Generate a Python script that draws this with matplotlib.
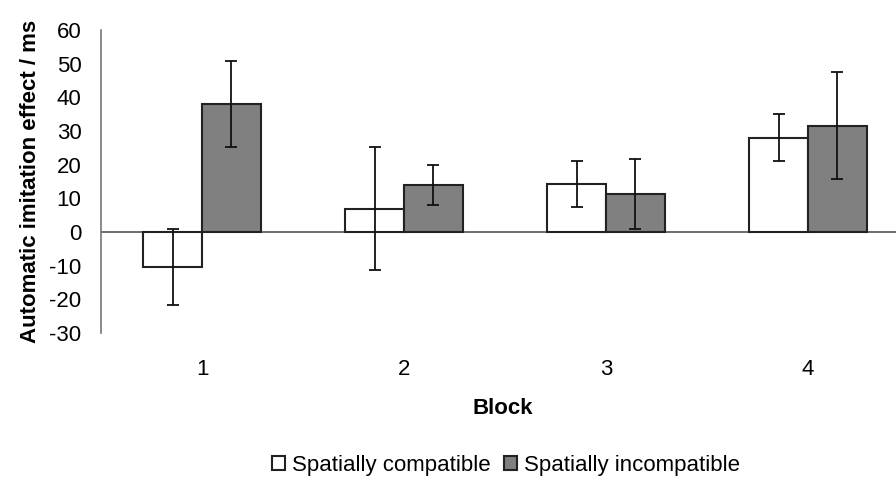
import numpy as np
import matplotlib
matplotlib.use("Agg")
import matplotlib.pyplot as plt

plt.rcParams['font.family'] = ['Liberation Sans', 'DejaVu Sans']
plt.rcParams['axes.unicode_minus'] = False

# Data
blocks = ['1', '2', '3', '4']
compatible = [-10.4, 6.9, 14.3, 28.0]
compatible_err = [11.2, 18.3, 6.9, 7.0]
incompatible = [38.0, 13.9, 11.3, 31.5]
incompatible_err = [12.9, 6.0, 10.3, 15.9]

fs = 16

fig = plt.figure(figsize=(8.96, 4.78), dpi=100)
ax = fig.add_axes([101/896, 145/478, 808/896, 303/478])

x = np.arange(len(blocks))
w = 0.29

ax.bar(x - w/2, compatible, w, color='white', edgecolor='#222222', linewidth=1.5,
       label='Spatially compatible', zorder=2)
ax.bar(x + w/2, incompatible, w, color='#808080', edgecolor='#222222', linewidth=1.5,
       label='Spatially incompatible', zorder=2)
ax.errorbar(x - w/2, compatible, yerr=compatible_err, fmt='none', ecolor='#111111',
            elinewidth=1.3, capsize=4, capthick=1.3, zorder=3)
ax.errorbar(x + w/2, incompatible, yerr=incompatible_err, fmt='none', ecolor='#111111',
            elinewidth=1.3, capsize=4, capthick=1.3, zorder=3)

ax.axhline(0, color='#555555', linewidth=1.2, zorder=1)

ax.set_xlim(-0.5, 3.5)
ax.set_ylim(-30, 60)
ax.set_yticks(range(-30, 61, 10))
ax.set_xticks(x)
ax.set_xticklabels(blocks)
ax.tick_params(axis='both', length=0, labelsize=fs)
ax.tick_params(axis='x', pad=19)
ax.tick_params(axis='y', pad=14)

for s in ['top', 'right', 'bottom']:
    ax.spines[s].set_visible(False)
ax.spines['left'].set_color('#777777')
ax.spines['left'].set_linewidth(1.2)

ax.set_ylabel('Automatic imitation effect / ms', fontsize=fs, fontweight='bold', labelpad=6)
fig.text(503/896, 1 - 408/478, 'Block', fontsize=fs, fontweight='bold', ha='center', va='center')

fig.legend(loc='center', bbox_to_anchor=(506/896, 1 - 465/478), ncol=2, frameon=False,
           fontsize=fs, handlelength=0.6, handleheight=0.6, handletextpad=0.3,
           columnspacing=0.6, borderpad=0)

fig.savefig('out.png', dpi=100)
